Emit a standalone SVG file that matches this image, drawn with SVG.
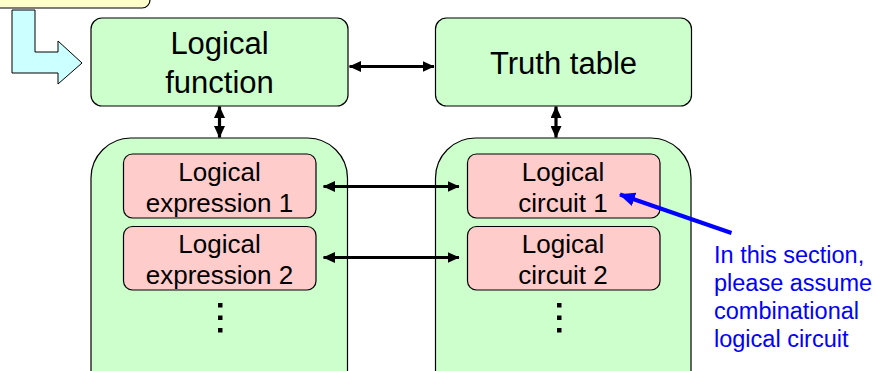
<svg xmlns="http://www.w3.org/2000/svg" width="876" height="371" viewBox="0 0 876 371">
  <style>
    .green { fill: #CCFFCC; stroke: #000; stroke-width: 1.2; }
    .pink { fill: #FFCCCC; stroke: #000; stroke-width: 1.2; }
    .big { font-family: "Liberation Sans", Arial, sans-serif; font-size: 31px; fill: #000; text-anchor: middle; }
    .mid { font-family: "Liberation Sans", Arial, sans-serif; font-size: 26px; fill: #000; text-anchor: middle; }
    .note { font-family: "Liberation Sans", Arial, sans-serif; font-size: 23.5px; fill: #0000FF; }
    .link { stroke: #000; stroke-width: 3.2; fill: none; marker-start: url(#head); marker-end: url(#head); }
    .dot { fill: #000; }
  </style>
  <defs>
    <marker id="head" markerUnits="userSpaceOnUse" markerWidth="12" markerHeight="11" refX="11.5" refY="5.5" orient="auto-start-reverse" viewBox="0 0 12 11">
      <path d="M0,0 L12,5.5 L0,11 Z" fill="#000"/>
    </marker>
    <marker id="blueHead" markerUnits="userSpaceOnUse" markerWidth="16" markerHeight="14" refX="14" refY="6.5" orient="auto" viewBox="0 0 15 13">
      <path d="M0,0 L15,6.5 L0,13 Z" fill="#0000FF"/>
    </marker>
  </defs>

  <!-- partially visible note box at the top edge -->
  <g id="top-box">
    <rect x="-12" y="-22" width="162" height="30" rx="8" fill="#FFFFCC" stroke="#000" stroke-width="1.2"/>
  </g>

  <!-- bent entry arrow -->
  <g id="entry-arrow">
    <path d="M12,10 H35 V52 H58 V41 L82,63 L58,84 V73 H12 Z" fill="#CCFFFF" stroke="#000" stroke-width="1"/>
  </g>

  <g id="logical-function">
    <rect class="green" x="91" y="18" width="257" height="88" rx="11"/>
    <text class="big" x="219.5" y="53.5">Logical</text>
    <text class="big" x="219.5" y="93">function</text>
  </g>

  <g id="truth-table">
    <rect class="green" x="435.5" y="18" width="256" height="88" rx="11"/>
    <text class="big" x="563.5" y="73.5">Truth table</text>
  </g>

  <g id="expressions">
    <rect class="green" x="91" y="138" width="256.5" height="280" rx="40"/>
    <g id="expression-1">
      <rect class="pink" x="123.5" y="154" width="192.5" height="64" rx="9"/>
      <text class="mid" x="219.5" y="181">Logical</text>
      <text class="mid" x="219.5" y="212">expression 1</text>
    </g>
    <g id="expression-2">
      <rect class="pink" x="123.5" y="226.5" width="192.5" height="63.5" rx="9"/>
      <text class="mid" x="219.5" y="252.5">Logical</text>
      <text class="mid" x="219.5" y="283.5">expression 2</text>
    </g>
    <rect class="dot" x="218" y="303" width="4.5" height="4.5"/>
    <rect class="dot" x="218" y="315.5" width="4.5" height="4.5"/>
    <rect class="dot" x="218" y="328" width="4.5" height="4.5"/>
  </g>

  <g id="circuits">
    <rect class="green" x="435.5" y="138" width="255.5" height="280" rx="40"/>
    <g id="circuit-1">
      <rect class="pink" x="467.5" y="154" width="192.5" height="64" rx="9"/>
      <text class="mid" x="563" y="181">Logical</text>
      <text class="mid" x="563" y="212">circuit 1</text>
    </g>
    <g id="circuit-2">
      <rect class="pink" x="467.5" y="226.5" width="192.5" height="63.5" rx="9"/>
      <text class="mid" x="563" y="252.5">Logical</text>
      <text class="mid" x="563" y="283.5">circuit 2</text>
    </g>
    <rect class="dot" x="557" y="303" width="4.5" height="4.5"/>
    <rect class="dot" x="557" y="315.5" width="4.5" height="4.5"/>
    <rect class="dot" x="557" y="328" width="4.5" height="4.5"/>
  </g>

  <g id="note">
    <text class="note" x="714" y="263">In this section,</text>
    <text class="note" x="714" y="291">please assume</text>
    <text class="note" x="714" y="319">combinational</text>
    <text class="note" x="714" y="347">logical circuit</text>
  </g>

  <g id="connectors">
    <line class="link" x1="349.5" y1="66.5" x2="434" y2="66.5"/>
    <line class="link" x1="219.5" y1="106.5" x2="219.5" y2="137.5"/>
    <line class="link" x1="556" y1="106.5" x2="556" y2="137.5"/>
    <line class="link" x1="323.5" y1="186.5" x2="459" y2="186.5"/>
    <line class="link" x1="323.5" y1="257.5" x2="459" y2="257.5"/>
    <line x1="731.5" y1="233" x2="620" y2="194.5" stroke="#0000FF" stroke-width="4" marker-end="url(#blueHead)"/>
  </g>
</svg>
